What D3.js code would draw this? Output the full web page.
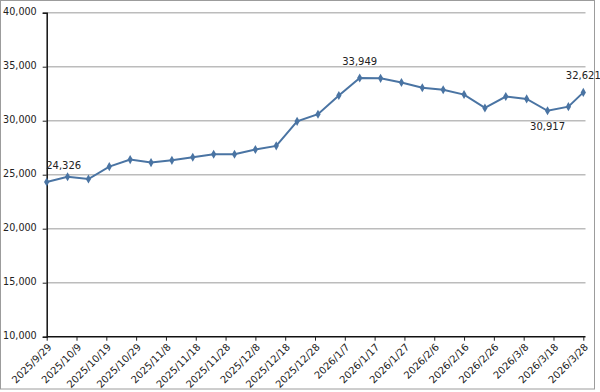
<!DOCTYPE html>
<html>
<head>
<meta charset="utf-8">
<script src="https://cdn.jsdelivr.net/npm/d3@7"></script>
<style>
  body { margin: 0; background: #fff; }
  text { font-family: "DejaVu Sans", Verdana, sans-serif; fill: #222; }
</style>
</head>
<body>
<script>
// weekly price series, Sep 2025 - Mar 2026

var dates = ["2025/9/29", "2025/10/6", "2025/10/13", "2025/10/20", "2025/10/27",
  "2025/11/3", "2025/11/10", "2025/11/17", "2025/11/24", "2025/12/1",
  "2025/12/8", "2025/12/15", "2025/12/22", "2025/12/29", "2026/1/5",
  "2026/1/12", "2026/1/19", "2026/1/26", "2026/2/2", "2026/2/9",
  "2026/2/16", "2026/2/23", "2026/3/2", "2026/3/9", "2026/3/16",
  "2026/3/23", "2026/3/28"];

var values = [24326, 24810, 24600, 25750, 26400,
  26120, 26330, 26610, 26890, 26890,
  27330, 27670, 29940, 30600, 32330,
  33949, 33920, 33540, 33050, 32860,
  32420, 31180, 32240, 32020, 30917,
  31300, 32621];

var xTickLabels = ["2025/9/29", "2025/10/9", "2025/10/19", "2025/10/29", "2025/11/8",
  "2025/11/18", "2025/11/28", "2025/12/8", "2025/12/18", "2025/12/28",
  "2026/1/7", "2026/1/17", "2026/1/27", "2026/2/6", "2026/2/16",
  "2026/2/26", "2026/3/8", "2026/3/18", "2026/3/28"];

var yTicks = [10000, 15000, 20000, 25000, 30000, 35000, 40000];

// which points carry a value label
var labelled = ["2025/9/29", "2026/1/12", "2026/3/16", "2026/3/28"];

var parse = d3.timeParse("%Y/%m/%d");
var fmt = d3.format(",");

var data = dates.map(function(d, i) {
  return { date: parse(d), key: d, value: values[i] };
});

var width = 600, height = 392;
var plot = {left: 46.7, right: 583.3, top: 12.7, bottom: 336.7};

var svg = d3.select("body").append("svg")
    .attr("width", width)
    .attr("height", height);

// outer frame
svg.append("rect")
    .attr("x", 0.5).attr("y", 0.5)
    .attr("width", 594).attr("height", 388.5)
    .attr("fill", "none")
    .attr("stroke", "#9c9c9c");

var x = d3.scaleTime()
    .domain([parse(xTickLabels[0]), parse(xTickLabels[xTickLabels.length - 1])])
    .range([plot.left, plot.right]);

var y = d3.scaleLinear()
    .domain([10000, 40000])
    .range([plot.bottom, plot.top]);

// gridlines
svg.append("g").selectAll("line")
  .data(yTicks.slice(1))
  .enter().append("line")
    .attr("x1", plot.left).attr("x2", 585.5)
    .attr("y1", function(d) { return y(d); })
    .attr("y2", function(d) { return y(d); })
    .attr("stroke", "#bcbcbc")
    .attr("stroke-width", 1.5);

// y axis
var yAxis = svg.append("g")
    .attr("transform", "translate(" + plot.left + ",0)")
    .call(d3.axisLeft(y).tickValues(yTicks).tickFormat(fmt).tickSize(4).tickPadding(6));
yAxis.select(".domain").attr("stroke", "#111").attr("stroke-width", 1.5);
yAxis.selectAll(".tick line").attr("stroke", "#222");
yAxis.selectAll("text")
    .style("font-family", "'DejaVu Sans', Verdana, sans-serif")
    .style("font-size", "9.6px")
    .attr("fill", "#222")
    .attr("dy", "0.2em");

// x axis
var xAxis = svg.append("g")
    .attr("transform", "translate(0," + plot.bottom + ")")
    .call(d3.axisBottom(x)
      .tickValues(xTickLabels.map(parse))
      .tickFormat(function(d, i) { return xTickLabels[i]; })
      .tickSize(4)
      .tickSizeOuter(0));
xAxis.select(".domain").attr("stroke", "#111").attr("stroke-width", 1.5)
    .attr("d", "M" + plot.left + ",0H585.5");
xAxis.selectAll(".tick line").attr("stroke", "#222");
xAxis.selectAll("text")
    .style("font-family", "'DejaVu Sans', Verdana, sans-serif")
    .style("font-size", "10px")
    .attr("fill", "#222")
    .attr("text-anchor", "end")
    .attr("y", 0)
    .attr("dy", 0)
    .attr("transform", "translate(5,11) rotate(-45)");

// the line
var line = d3.line()
    .x(function(d) { return x(d.date); })
    .y(function(d) { return y(d.value); });

svg.append("path")
    .datum(data)
    .attr("fill", "none")
    .attr("stroke", "#4a74a3")
    .attr("stroke-width", 2)
    .attr("d", line);

svg.append("g").selectAll("path")
  .data(data)
  .enter().append("path")
    .attr("d", d3.symbol().type(d3.symbolDiamond).size(24))
    .attr("transform", function(d) { return "translate(" + x(d.date) + "," + y(d.value) + ")"; })
    .attr("fill", "#4a74a3");

// value labels
var labelData = data.filter(function(d) { return labelled.indexOf(d.key) >= 0; });
svg.append("g").selectAll("text")
  .data(labelData)
  .enter().append("text")
    .style("font-size", "10px")
    .attr("x", function(d, i) { return x(d.date) + (i === 0 ? 17 : 0); })
    .attr("y", function(d) { return y(d.value) + (d.key === "2026/3/16" ? 19 : -13); })
    .attr("text-anchor", "middle")
    .text(function(d) { return fmt(d.value); });
</script>
</body>
</html>
